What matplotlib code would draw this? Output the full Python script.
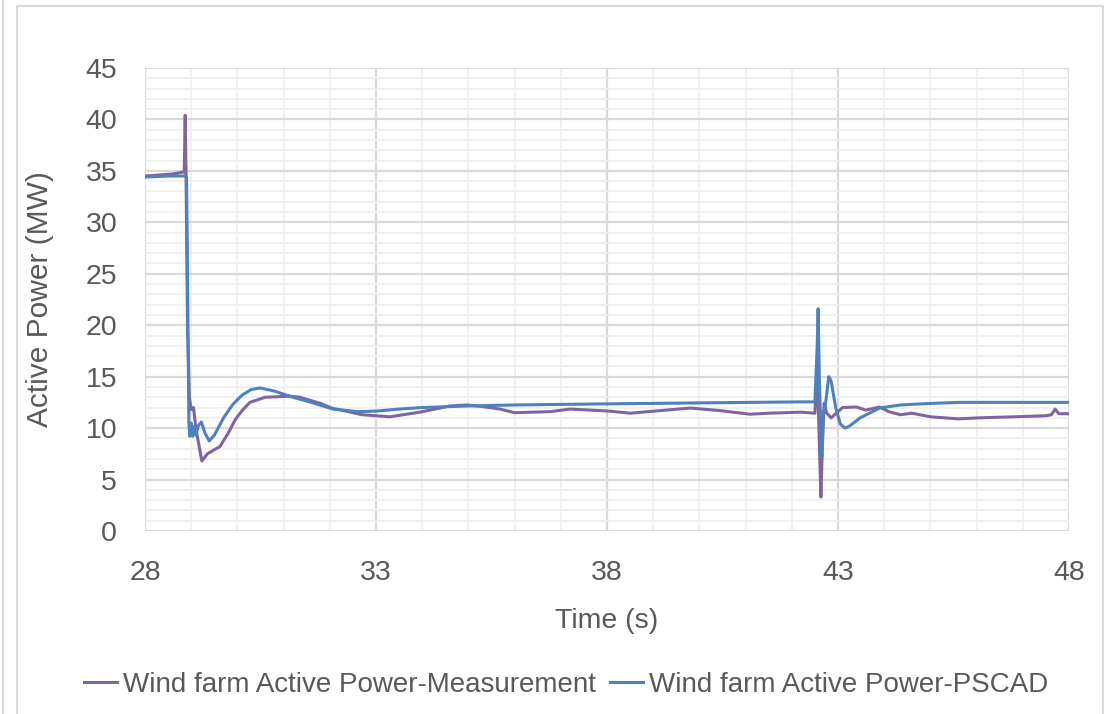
import matplotlib
matplotlib.use("Agg")
import matplotlib.pyplot as plt
from matplotlib.lines import Line2D
from matplotlib.patches import Rectangle
from matplotlib.ticker import MultipleLocator
from matplotlib import font_manager

names = {f.name for f in font_manager.fontManager.ttflist}
if 'Liberation Sans Narrow' in names:
    plt.rcParams['font.family'] = ['Liberation Sans Narrow', 'DejaVu Sans']
    FS_TICK, FS_LAB, FS_LEG = 22, 22, 22
else:
    plt.rcParams['font.family'] = ['Liberation Sans', 'DejaVu Sans']
    FS_TICK, FS_LAB, FS_LEG = 20.5, 20.5, 20

# Measurement series (time s, MW)
meas_t = [28.0, 28.3, 28.6, 28.85, 28.87, 28.89, 28.92, 28.96, 29.0, 29.05, 29.1, 29.23,
          29.35, 29.5, 29.62, 29.8, 29.95, 30.1, 30.27, 30.6, 31.14, 31.35, 31.8, 32.07,
          32.2, 32.7, 33.0, 33.3, 33.95, 34.6, 34.97, 35.3, 35.68, 36.0, 36.77, 37.2,
          38.06, 38.5, 39.15, 39.8, 40.45, 41.1, 41.5, 42.2, 42.5, 42.55, 42.6, 42.63,
          42.66, 42.7, 42.75, 42.85, 43.1, 43.4, 43.6, 43.9, 44.1, 44.35, 44.6, 45.0,
          45.6, 46.07, 46.8, 47.5, 47.62, 47.7, 47.78, 48.0]
meas_p = [34.5, 34.6, 34.7, 34.9, 40.4, 34.0, 20.0, 13.0, 11.8, 12.0, 10.0, 6.8,
          7.5, 7.9, 8.2, 9.5, 10.8, 11.7, 12.5, 13.0, 13.1, 13.0, 12.4, 11.9,
          11.8, 11.3, 11.2, 11.1, 11.55, 12.15, 12.25, 12.1, 11.85, 11.5, 11.6, 11.85,
          11.65, 11.45, 11.7, 11.95, 11.7, 11.35, 11.45, 11.55, 11.45, 16.0, 8.0, 3.3,
          8.0, 12.4, 11.5, 11.0, 12.0, 12.05, 11.75, 12.05, 11.6, 11.3, 11.45, 11.1,
          10.9, 11.0, 11.1, 11.2, 11.3, 11.85, 11.4, 11.4]

# PSCAD series (time s, MW)
pscad_t = [28.0, 28.5, 28.87, 28.9, 28.93, 28.95, 28.97, 29.0, 29.03, 29.07, 29.1, 29.15,
           29.22, 29.3, 29.39, 29.5, 29.7, 29.9, 30.1, 30.3, 30.49, 30.8, 31.2, 31.6,
           32.07, 32.6, 33.0, 33.5, 34.0, 34.97, 36.0, 37.85, 40.0, 42.2, 42.5, 42.55,
           42.57, 42.6, 42.65, 42.68, 42.72, 42.8, 42.85, 42.95, 43.05, 43.15, 43.25,
           43.48, 43.9, 44.35, 45.0, 45.64, 48.0]
pscad_p = [34.4, 34.5, 34.5, 34.3, 20.0, 10.5, 9.2, 10.5, 9.2, 10.2, 9.3, 10.2,
           10.6, 9.5, 8.75, 9.3, 11.0, 12.3, 13.2, 13.75, 13.9, 13.6, 13.0, 12.5,
           11.85, 11.6, 11.65, 11.85, 12.0, 12.15, 12.25, 12.35, 12.45, 12.55, 12.55, 18.0,
           21.6, 14.0, 7.2, 11.5, 12.0, 15.0, 14.6, 12.0, 10.4, 10.0, 10.2,
           11.0, 11.95, 12.25, 12.4, 12.5, 12.5]

x_ticks = [28, 33, 38, 43, 48]
labels = ['Wind farm Active Power-Measurement', 'Wind farm Active Power-PSCAD']
colors = ['#8064A2', '#4F81BD']
text_color = '#595959'

fig = plt.figure(figsize=(11.08, 7.14), dpi=100)
ax = fig.add_axes([145/1108, 1 - 531/714, (1069-145)/1108, (531-68)/714])

ax.plot(meas_t, meas_p, color=colors[0], lw=2.2, label=labels[0], zorder=3)
ax.plot(pscad_t, pscad_p, color=colors[1], lw=2.2, label=labels[1], zorder=4)

ax.set_xlim(28, 48)
ax.set_ylim(0, 45)
ax.set_xticks(x_ticks)
ax.xaxis.set_minor_locator(MultipleLocator(1))
ax.yaxis.set_major_locator(MultipleLocator(5))
ax.yaxis.set_minor_locator(MultipleLocator(1))
ax.grid(which='minor', color='#efefef', lw=1.3, zorder=0)
ax.grid(which='major', color='#d9d9d9', lw=1.6, zorder=1)
ax.set_axisbelow(True)
for s in ax.spines.values():
    s.set_visible(False)
ax.tick_params(which='both', length=0, labelsize=FS_TICK, colors=text_color)
ax.tick_params(axis='y', pad=20)
ax.tick_params(axis='x', pad=21)

ax.set_xlabel('Time (s)', fontsize=FS_LAB, color=text_color, labelpad=16)
ax.set_ylabel('Active Power (MW)', fontsize=FS_LAB + 1, color=text_color)
ax.yaxis.set_label_coords((54 - 145) / 924, 0.5)

handles = [Line2D([], [], color=c, lw=2.2) for c in colors]
fig.legend(handles, labels, loc='center', bbox_to_anchor=(566/1108, 1 - 685/714),
           ncol=2, frameon=False, fontsize=FS_LEG, handlelength=1.2, handletextpad=0.2,
           columnspacing=0.5, labelcolor=text_color)

fig.patches.append(Rectangle((17/1108, -0.01), (1103-17)/1108, 1 - 6/714 + 0.01,
                             transform=fig.transFigure, fill=False,
                             edgecolor='#d9d9d9', lw=1.5))
fig.lines.append(Line2D([3/1108, 3/1108], [0, 1], transform=fig.transFigure,
                        color='#d9d9d9', lw=1.5))

fig.savefig('out.png', dpi=100)
